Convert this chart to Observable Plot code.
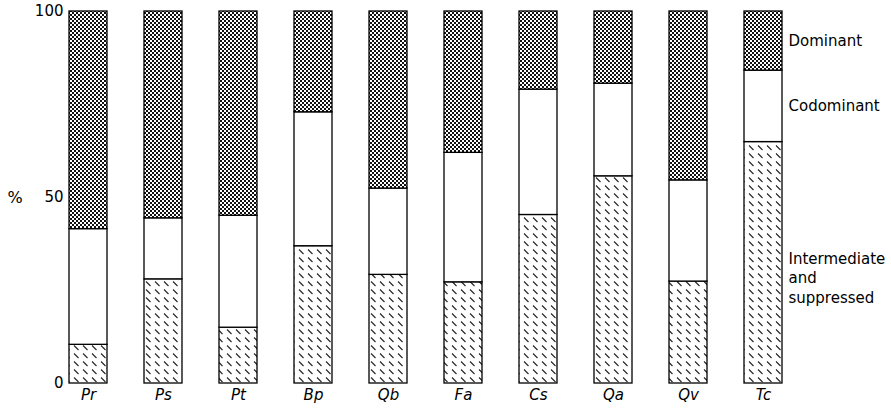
<!DOCTYPE html>
<html>
<head>
<meta charset="utf-8">
<script src="https://cdn.jsdelivr.net/npm/d3@7"></script>
<script src="https://cdn.jsdelivr.net/npm/@observablehq/plot@0.6"></script>
<style>
  html, body { margin: 0; padding: 0; background: #fff; }
  svg { display: block; }
</style>
</head>
<body>
<div id="chart"></div>
<script>
const categories = ["Pr", "Ps", "Pt", "Bp", "Qb", "Fa", "Cs", "Qa", "Qv", "Tc"];
const classes = ["Intermediate and suppressed", "Codominant", "Dominant"];
const intermediate = [10.4, 28.0, 15.0, 36.9, 29.2, 27.2, 45.3, 55.7, 27.4, 64.9];
const codominant   = [31.1, 16.4, 30.1, 36.0, 23.2, 34.8, 33.7, 24.9, 27.2, 19.2];
const dominant     = [58.5, 55.6, 54.9, 27.1, 47.6, 38.0, 21.0, 19.4, 45.4, 15.9];
const yTicks = [0, 50, 100];
const legendLabels = ["Intermediate\nand\nsuppressed", "Codominant", "Dominant"];

const series = [intermediate, codominant, dominant];
const rows = [];
classes.forEach((cls, k) => {
  categories.forEach((cat, i) => rows.push({cat, cls, value: series[k][i]}));
});

// legend labels placed beside the last bar, at the middle of each of its segments
const last = categories.length - 1;
let acc = 0;
const legendRows = classes.map((cls, k) => {
  const v = series[k][last];
  const mid = acc + v / 2;
  acc += v;
  return {cat: categories[last], label: legendLabels[k], y: mid, k};
});

const font = "'DejaVu Sans', sans-serif";

const chart = Plot.plot({
  width: 891,
  height: 408,
  marginLeft: 66,
  marginRight: 106,
  marginTop: 11,
  marginBottom: 25,
  style: {fontFamily: font, fontSize: "15px", background: "#fff", color: "#000"},
  x: {domain: categories, paddingInner: 0.495, paddingOuter: 0.04, label: null},
  y: {domain: [0, 100], label: null},
  color: {domain: classes, range: ["url(#hatch)", "#ffffff", "url(#dots)"]},
  marks: [
    Plot.barY(rows, {x: "cat", y: "value", fill: "cls", stroke: "#000", strokeWidth: 1.3}),
    Plot.axisX({tickSize: 0, tickPadding: 6, fontStyle: "italic", fontSize: 15, fontFamily: font}),
    Plot.axisY({ticks: yTicks, tickSize: 0, tickPadding: 3, fontSize: 15, fontFamily: font}),
    Plot.text(["%"], {frameAnchor: "left", y: () => 50, dx: -59, textAnchor: "start", fontSize: 16, fontFamily: font}),
    Plot.text(legendRows.filter(d => d.k > 0), {x: "cat", y: "y", text: "label", textAnchor: "start", dx: 25,
      fontSize: 15, fontFamily: font}),
    Plot.text(legendRows.filter(d => d.k === 0), {x: "cat", y: "y", text: "label", textAnchor: "start", dx: 25, dy: 14,
      lineHeight: 1.3, fontSize: 15, fontFamily: font})
  ]
});

const svg = d3.select(chart);
const defs = svg.insert("defs", ":first-child");
const dots = defs.append("pattern").attr("id", "dots").attr("patternUnits", "userSpaceOnUse")
  .attr("width", 4).attr("height", 4);
dots.append("rect").attr("width", 4).attr("height", 4).attr("fill", "#fff");
dots.append("rect").attr("x", 0).attr("y", 0).attr("width", 2).attr("height", 2).attr("fill", "#111");
dots.append("rect").attr("x", 2).attr("y", 2).attr("width", 2).attr("height", 2).attr("fill", "#111");
const hatch = defs.append("pattern").attr("id", "hatch").attr("patternUnits", "userSpaceOnUse")
  .attr("width", 9).attr("height", 8);
hatch.append("rect").attr("width", 9).attr("height", 8).attr("fill", "#fff");
hatch.append("line").attr("x1", 2).attr("y1", 1.5).attr("x2", 6.5).attr("y2", 6)
  .attr("stroke", "#222").attr("stroke-width", 1.1);

document.getElementById("chart").appendChild(chart);
</script>
</body>
</html>
